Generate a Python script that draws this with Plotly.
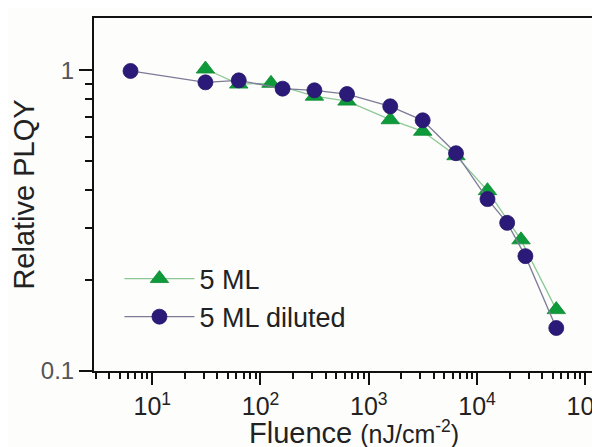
import plotly.graph_objects as go

# Data
fluence_5ml = [31, 63, 125, 315, 630, 1580, 3150, 6400, 12500, 25500, 54000]
plqy_5ml = [1.01, 0.90, 0.905, 0.82, 0.79, 0.685, 0.627, 0.52, 0.398, 0.273, 0.160]

fluence_dil = [6.3, 31, 63, 160, 315, 630, 1580, 3150, 6400, 12500, 19000, 28000, 54000]
plqy_dil = [0.995, 0.912, 0.926, 0.869, 0.858, 0.834, 0.759, 0.682, 0.530, 0.373, 0.311, 0.241, 0.139]

x_tickvals = [10, 100, 1000, 10000, 100000]
x_ticktext = ["10<sup>1</sup>", "10<sup>2</sup>", "10<sup>3</sup>", "10<sup>4</sup>", "10<sup>5</sup>"]
y_tickvals = [0.1, 1]
y_ticktext = ["0.1", "1"]

x_minor = [m * 10 ** d for d in range(0, 5) for m in range(2, 10)]
y_minor = [m / 10 for m in range(2, 10)]

FONT = "Liberation Sans"

fig = go.Figure()
fig.add_trace(go.Scatter(
    x=fluence_5ml, y=plqy_5ml, name="5 ML", mode="lines+markers",
    line=dict(color="#8cc896", width=1.3),
    marker=dict(symbol="triangle-up", size=16, color="#0e9a3a",
                line=dict(color="#0b8a32", width=0.8)),
))
fig.add_trace(go.Scatter(
    x=fluence_dil, y=plqy_dil, name="5 ML diluted", mode="lines+markers",
    line=dict(color="#7d7b98", width=1.3),
    marker=dict(symbol="circle", size=15, color="#2c1a78",
                line=dict(color="#24156a", width=0.8)),
))

fig.update_layout(
    width=600, height=447,
    margin=dict(l=82, r=3, t=10, b=84),
    paper_bgcolor="#fdfdfb", plot_bgcolor="#fdfdfb",
    font=dict(family=FONT, color="#2b2b2b"),
    showlegend=True,
    legend=dict(x=0.05, y=0.33, xanchor="left", yanchor="top",
                bgcolor="rgba(0,0,0,0)", font=dict(size=27, family=FONT, color="#222"),
                itemwidth=70),
    xaxis=dict(
        type="log", range=[0.462, 5.164],
        tickmode="array", tickvals=x_tickvals, ticktext=x_ticktext,
        ticks="outside", ticklen=12, tickwidth=2, tickcolor="#111",
        tickfont=dict(size=25, family=FONT, color="#222"),
        showline=True, linecolor="#111", linewidth=2, mirror=True,
        showgrid=False, zeroline=False,
        minor=dict(tickmode="array", tickvals=x_minor, ticks="outside",
                   ticklen=6, tickwidth=1.5, tickcolor="#111", showgrid=False),
    ),
    yaxis=dict(
        type="log", range=[-1, 0.174],
        tickmode="array", tickvals=y_tickvals, ticktext=y_ticktext,
        ticks="outside", ticklen=13, tickwidth=2, tickcolor="#111",
        tickfont=dict(size=24, family=FONT, color="#555"),
        showline=True, linecolor="#111", linewidth=2, mirror=True,
        showgrid=False, zeroline=False,
        minor=dict(tickmode="array", tickvals=y_minor, ticks="outside",
                   ticklen=7, tickwidth=1.5, tickcolor="#111", showgrid=False),
        title=dict(text="Relative PLQY", font=dict(size=29, family=FONT, color="#222"),
                   standoff=10),
    ),
    annotations=[dict(
        text="Fluence <span style='font-size:25px'>(nJ/cm<sup>-2</sup>)</span>",
        xref="paper", yref="paper", x=0.51, y=-0.175, xanchor="center", yanchor="middle",
        showarrow=False, font=dict(size=29, family=FONT, color="#222"),
    )],
)

fig.write_html("out.html")
